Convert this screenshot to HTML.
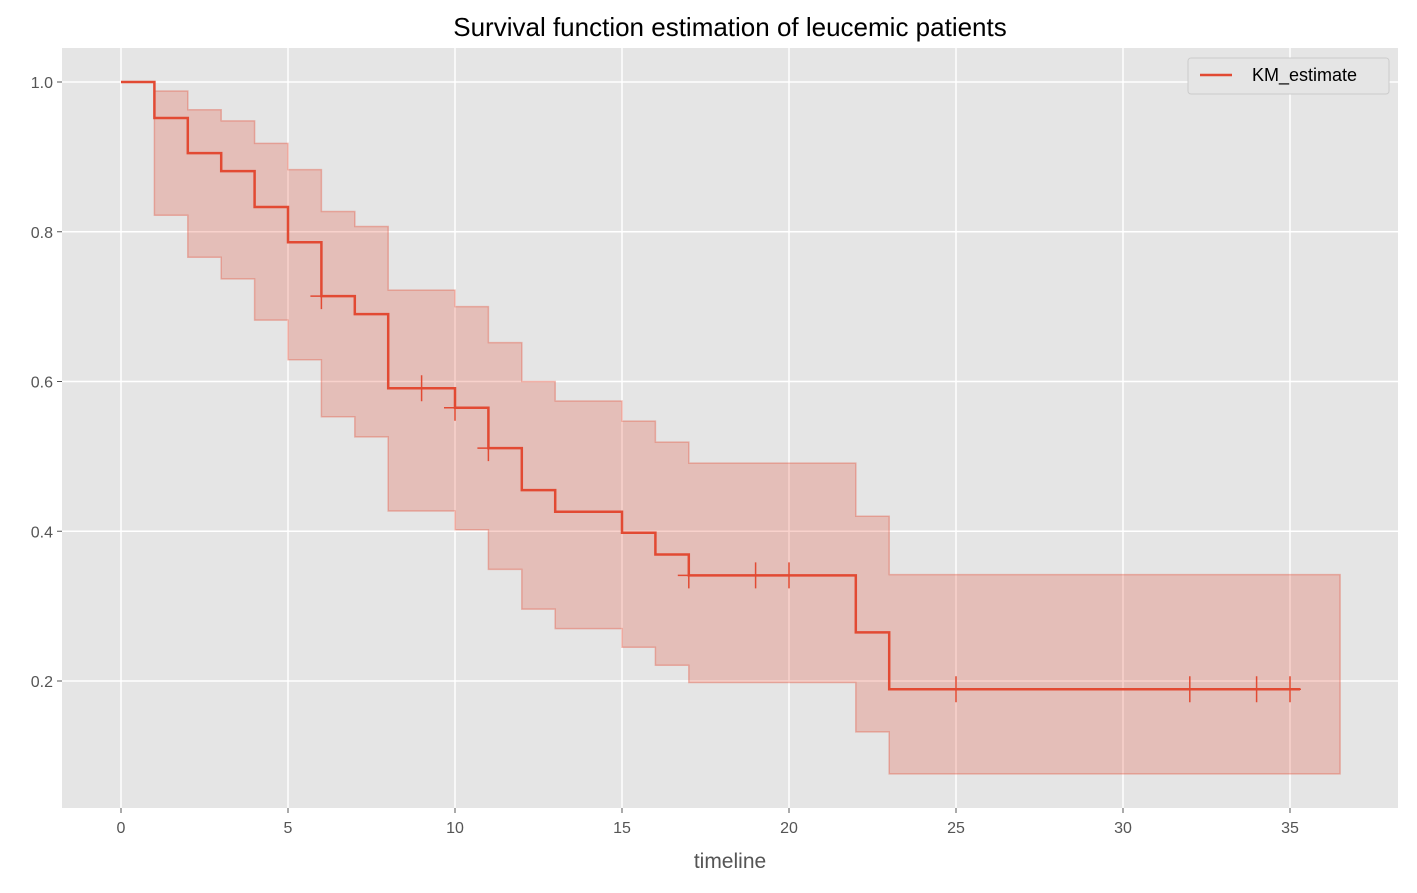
<!DOCTYPE html>
<html><head><meta charset="utf-8"><style>
body{margin:0;background:#fff;font-family:"Liberation Sans","DejaVu Sans",sans-serif}
</style></head><body>
<svg width="1417" height="888" xmlns="http://www.w3.org/2000/svg">
<text x="730" y="36" text-anchor="middle" font-size="26" fill="#000">Survival function estimation of leucemic patients</text>
<rect x="62" y="48" width="1336" height="760" fill="#e5e5e5"/>
<g id="grid"></g><g id="ci"></g><g id="line"></g><g id="ticks"></g>
<text x="730" y="868" text-anchor="middle" font-size="21" fill="#555">timeline</text>
<g>
<rect x="1188" y="58" width="201" height="36" fill="#e5e5e5" stroke="#ccc" rx="3"/>
<line x1="1200" y1="75" x2="1232" y2="75" stroke="#E24A33" stroke-width="2.5"/>
<text x="1252" y="81" font-size="18" fill="#000">KM_estimate</text>
</g>
</svg>
<script>
const times=[0,1,2,3,4,5,6,7,8,10,11,12,13,15,16,17,22,23];
const km=[1.0,0.952,0.905,0.881,0.833,0.786,0.714,0.690,0.591,0.565,0.511,0.455,0.426,0.398,0.369,0.341,0.265,0.189];
const upper=[1.0,0.988,0.963,0.948,0.918,0.883,0.827,0.807,0.722,0.700,0.652,0.600,0.574,0.547,0.519,0.491,0.420,0.342];
const lower=[1.0,0.822,0.766,0.737,0.682,0.629,0.553,0.526,0.427,0.402,0.349,0.296,0.270,0.245,0.221,0.198,0.132,0.076];
const censorTimes=[6,9,10,11,17,19,20,25,32,34,35];
const lineEnd=35.3, ciEnd=36.5;
const xTicks=[0,5,10,15,20,25,30,35];
const yTicks=[0.2,0.4,0.6,0.8,1.0];
const NS="http://www.w3.org/2000/svg";
const X=t=>121+t*(1290-121)/35;
const Y=v=>82+(1-v)*(681-82)/0.8;
function mk(tag,attrs,parent){const e=document.createElementNS(NS,tag);for(const k in attrs)e.setAttribute(k,attrs[k]);document.getElementById(parent).appendChild(e);return e;}
xTicks.forEach(t=>{
 const l=mk('line',{x1:X(t),x2:X(t),y1:48,y2:808,stroke:'#fff','stroke-width':1.5},'grid');
 
 
 const tk=mk('line',{x1:X(t),x2:X(t),y1:808,y2:813,stroke:'#555'},'ticks');
 const tx=mk('text',{x:X(t),y:833,'text-anchor':'middle','font-size':16,fill:'#555'},'ticks');tx.textContent=t;
 
 
});
yTicks.forEach(v=>{
 const l=mk('line',{x1:62,x2:1398,y1:Y(v),y2:Y(v),stroke:'#fff','stroke-width':1.5},'grid');
 
 
 mk('line',{x1:57,x2:62,y1:Y(v),y2:Y(v),stroke:'#555'},'ticks');
 const tx=mk('text',{x:53,y:Y(v)+6,'text-anchor':'end','font-size':16,fill:'#555'},'ticks');tx.textContent=v.toFixed(1);
 
 
});
function stepPts(vals,end){let p=[];for(let i=0;i<times.length;i++){const t2=i+1<times.length?times[i+1]:end;p.push([X(times[i]),Y(vals[i])],[X(t2),Y(vals[i])]);}return p;}
const up=stepPts(upper,ciEnd), lo=stepPts(lower,ciEnd).reverse();
const band=mk('polygon',{points:up.concat(lo).map(p=>p.join(',')).join(' '),fill:'#E24A33','fill-opacity':0.25,stroke:'#E24A33','stroke-opacity':0.35,'stroke-width':1.5},'ci');


const kp=stepPts(km,lineEnd);
const ln=mk('polyline',{points:kp.map(p=>p.join(',')).join(' '),fill:'none',stroke:'#E24A33','stroke-width':2.5},'line');


function kmAt(t){let v=1;for(let i=0;i<times.length;i++)if(times[i]<=t)v=km[i];return v;}
censorTimes.forEach(t=>{
 const x=X(t),y=Y(kmAt(t));
 const g=mk('path',{d:`M${x-11},${y}H${x+11}M${x},${y-13}V${y+13}`,stroke:'#E24A33','stroke-width':1.5},'line');
 
 
});
</script>
</body></html>
